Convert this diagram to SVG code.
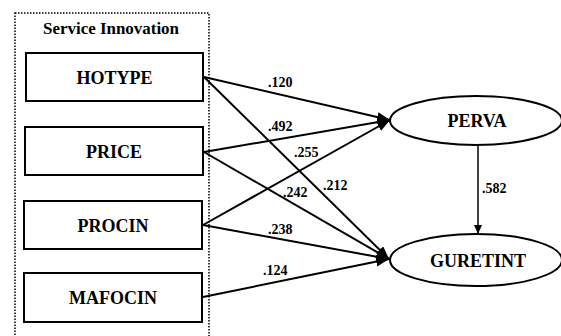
<svg xmlns="http://www.w3.org/2000/svg" width="561" height="336" viewBox="0 0 561 336">
<style>
.box{fill:#fff;stroke:#000;stroke-width:2}
.ell{fill:#fff;stroke:#000;stroke-width:2}
text{font-family:'Liberation Serif','DejaVu Serif',serif;font-weight:bold;fill:#000}
.lbl{font-size:18px;text-anchor:middle}
.coef{font-size:14px}
.edge{stroke:#000;stroke-width:2;fill:none;marker-end:url(#ah)}
.edge2{stroke:#000;stroke-width:1.5;fill:none;marker-end:url(#ah2)}
</style>
<defs>
<marker id="ah" markerUnits="userSpaceOnUse" markerWidth="14" markerHeight="12" refX="13" refY="5" orient="auto">
<path d="M0,0 L13,5 L0,10 z" fill="#000"/>
</marker>
<marker id="ah2" markerUnits="userSpaceOnUse" markerWidth="10" markerHeight="10" refX="9" refY="4" orient="auto">
<path d="M0,0 L9,4 L0,8 z" fill="#000"/>
</marker>
</defs>
<rect width="561" height="336" fill="#fff"/>
<g id="service-innovation">
<rect x="15" y="13" width="194" height="330" fill="none" stroke="#000" stroke-width="1.5" stroke-dasharray="1.5,1.5"/>
<text x="111" y="34" class="lbl" style="font-size:16px" textLength="136" lengthAdjust="spacingAndGlyphs">Service Innovation</text>
</g>
<g id="connectors">
<line class="edge" x1="204" y1="77" x2="390" y2="120"/>
<line class="edge" x1="204" y1="77" x2="389" y2="259"/>
<line class="edge" x1="204" y1="152" x2="390" y2="120"/>
<line class="edge" x1="204" y1="152" x2="389" y2="259"/>
<line class="edge" x1="203" y1="225" x2="390" y2="120"/>
<line class="edge" x1="203" y1="225" x2="389" y2="259"/>
<line class="edge" x1="203" y1="297" x2="389" y2="259"/>
<line class="edge2" x1="478" y1="145" x2="478" y2="234"/>
<text class="coef" x="268" y="87">.120</text>
<text class="coef" x="268" y="131">.492</text>
<text class="coef" x="294" y="157">.255</text>
<text class="coef" x="323" y="190">.212</text>
<text class="coef" x="283" y="197">.242</text>
<text class="coef" x="268" y="234">.238</text>
<text class="coef" x="263" y="275">.124</text>
<text class="coef" x="482" y="193">.582</text>
</g>
<g id="HOTYPE">
<rect class="box" x="26" y="53" width="177" height="48"/>
<text class="lbl" x="114.5" y="84">HOTYPE</text>
</g>
<g id="PRICE">
<rect class="box" x="25" y="127" width="178" height="48"/>
<text class="lbl" x="114" y="158">PRICE</text>
</g>
<g id="PROCIN">
<rect class="box" x="24" y="201" width="178" height="48"/>
<text class="lbl" x="113" y="232">PROCIN</text>
</g>
<g id="MAFOCIN">
<rect class="box" x="24" y="273" width="178" height="49"/>
<text class="lbl" x="113" y="304">MAFOCIN</text>
</g>
<g id="PERVA">
<ellipse class="ell" cx="476" cy="120.5" rx="86" ry="24.5"/>
<text class="lbl" x="477" y="127">PERVA</text>
</g>
<g id="GURETINT">
<ellipse class="ell" cx="476" cy="260" rx="86" ry="26"/>
<text class="lbl" x="478" y="267">GURETINT</text>
</g>
</svg>
